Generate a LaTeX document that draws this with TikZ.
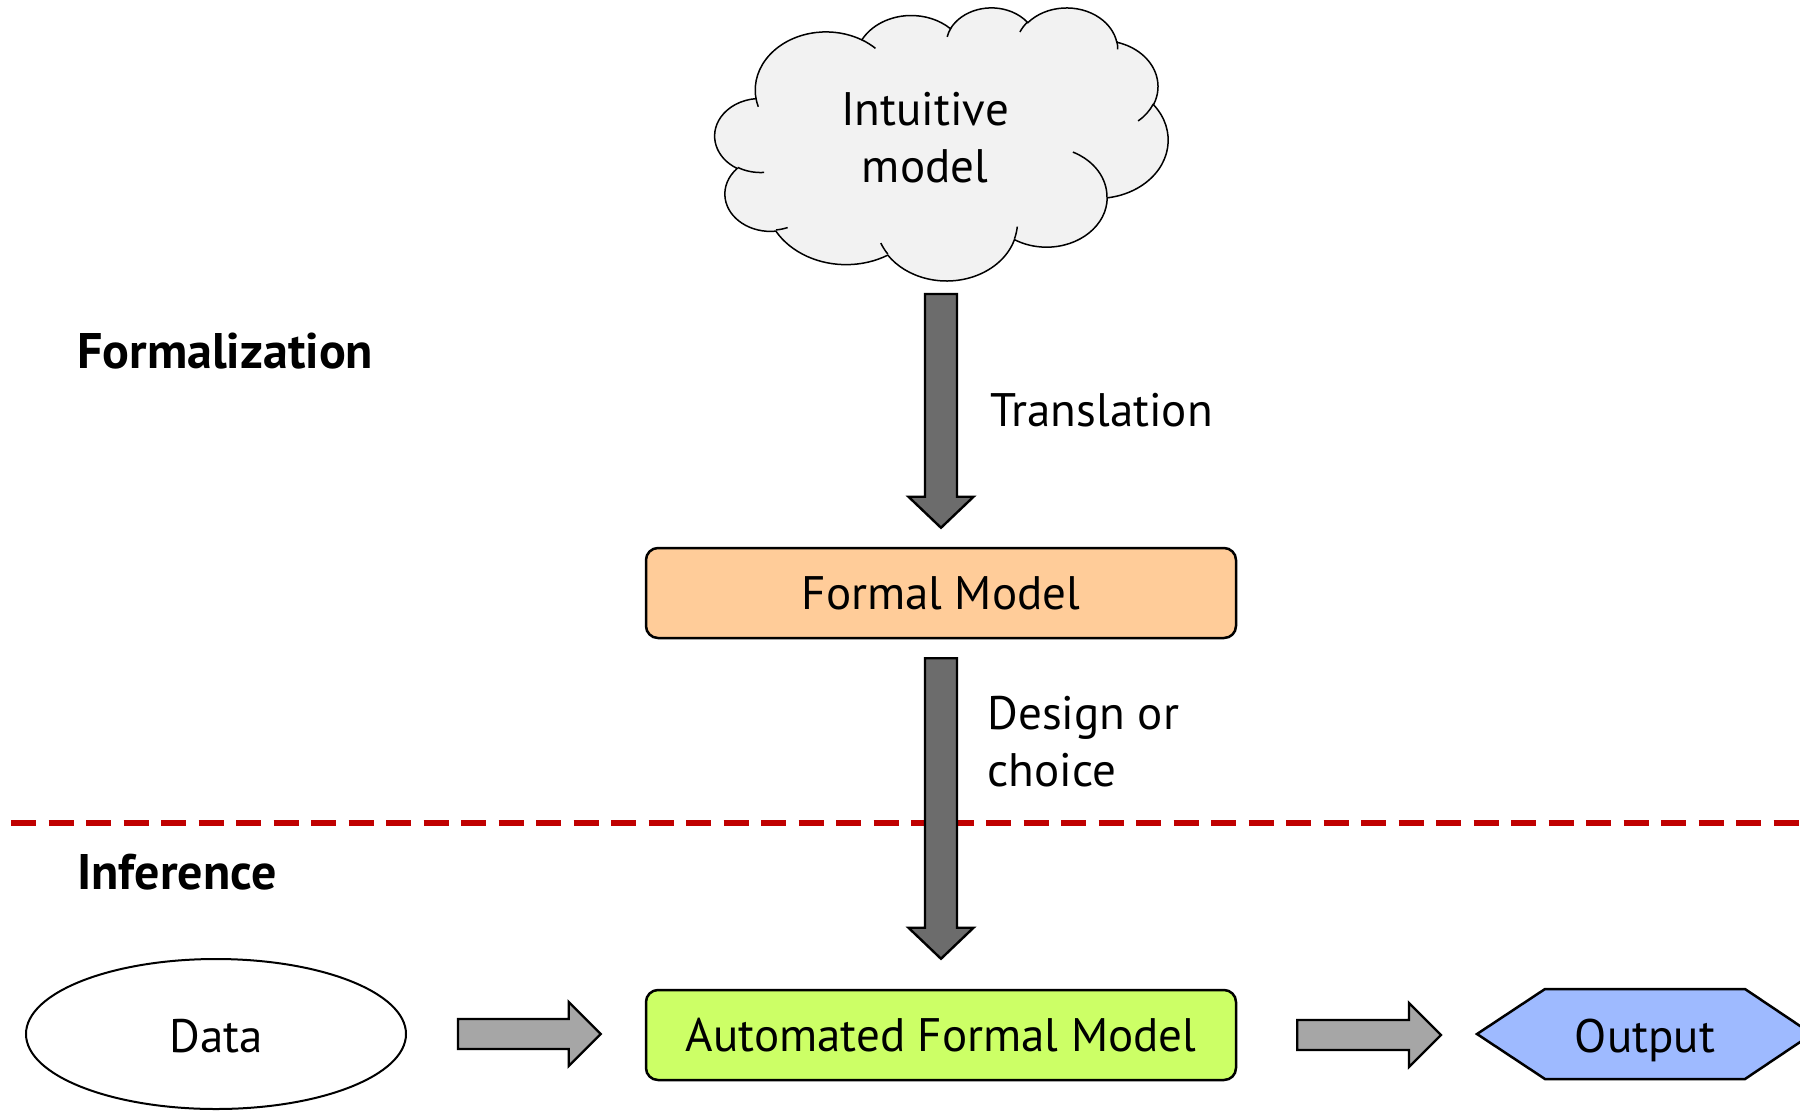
\documentclass[tikz,border=0pt]{standalone}
\usepackage{fontspec}
\setmainfont{PT Sans}
\usetikzlibrary{shapes.geometric,calc}

\definecolor{cloudgray}{RGB}{242,242,242}
\definecolor{peach}{RGB}{255,204,153}
\definecolor{lime}{RGB}{204,255,102}
\definecolor{skyblue}{RGB}{158,186,255}
\definecolor{darkshaft}{RGB}{108,108,108}
\definecolor{lightshaft}{RGB}{166,166,166}
\definecolor{borderred}{RGB}{192,0,0}

\tikzset{
  txt/.style={font=\fontsize{23.5}{28.5}\selectfont, inner sep=0pt},
  heading/.style={font=\fontsize{25}{30}\selectfont\bfseries, inner sep=0pt, anchor=west},
  modelbox/.style={draw, line width=1.25pt, rounded corners=6pt,
    minimum width=295pt, minimum height=45pt, txt},
  blockarrow/.style={draw, line width=1.2pt, line join=miter},
  phaseline/.style={draw=borderred, line width=2.8pt, dash pattern=on 12.5pt off 6.25pt},
  cloudline/.style={draw=black, line width=0.75pt},
}

% vertical block arrow from #1 down to the tip #2
\newcommand\vblockarrow[3]{%
  \draw[blockarrow, fill=#3] let \p1=#1, \p2=#2 in
    (\x1-8pt,\y1) -- (\x1+8pt,\y1) -- (\x1+8pt,\y2+15.5pt) -- (\x1+16.25pt,\y2+15.5pt)
    -- (\x1,\y2) -- (\x1-16.25pt,\y2+15.5pt) -- (\x1-8pt,\y2+15.5pt) -- cycle;}
% horizontal block arrow from #1 right to the tip #2
\newcommand\hblockarrow[3]{%
  \draw[blockarrow, fill=#3] let \p1=#1, \p2=#2 in
    (\x1,\y1-7.5pt) -- (\x2-16pt,\y1-7.5pt) -- (\x2-16pt,\y1-16pt) -- (\x2,\y1)
    -- (\x2-16pt,\y1+16pt) -- (\x2-16pt,\y1+7.5pt) -- (\x1,\y1+7.5pt) -- cycle;}

\begin{document}
\begin{tikzpicture}[x=0.5pt,y=-0.5pt]
\useasboundingbox (0,0) rectangle (1800,1110);

% phase separator
\draw[phaseline] (11,823) -- (1800,823);

% section headings
\node[heading] (formalization) at (77,351) {Formalization};
\node[heading] (inference) at (77,872) {Inference};

% intuitive model cloud: eleven elliptic puffs in a 432 x 432 frame
% (angles are visual angles, turned into the ellipse parameter below)
\begin{scope}[shift={(715,7)}, x=0.52431pt, y=-0.31597pt]
  \draw[cloudline, fill=cloudgray] (39.00,143.70)
    \foreach \rx/\ry/\st/\sw
      [evaluate=\st as \ta using {atan2(\rx*sin(\st),\ry*cos(\st))},
       evaluate=\st as \tb using {atan2(\rx*sin(\st+\sw),\ry*cos(\st+\sw))},
       evaluate=\st as \td using {mod(\tb-\ta+720,360)}]
    in {67.53/91.90/-190.4875/123.7805,
        53.33/72.67/-144.1024/89.9452,
        43.65/59.45/-145.8079/99.7230,
        48.57/65.95/-130.9861/117.2417,
        53.33/72.73/-78.7089/109.0269,
        67.75/92.20/-46.2673/130.2690,
        57.85/78.67/0.6250/114.0333,
        67.52/92.15/22.4516/115.1726,
        77.20/105.43/66.2426/75.7110,
        43.60/59.18/-274.9421/146.7356,
        43.45/59.45/-246.8285/152.5189}
    { arc[start angle=\ta, delta angle=\td, x radius=\rx, y radius=\ry] } -- cycle;
  % inner folds between neighbouring puffs
  \draw[cloudline]
    \foreach \mx/\my/\rx/\ry/\st/\sw
      [evaluate=\st as \ta using {atan2(\rx*sin(\st),\ry*cos(\st))},
       evaluate=\st as \tb using {atan2(\rx*sin(\st+\sw),\ry*cos(\st+\sw))},
       evaluate=\st as \td using {mod(\tb-\ta+720,360)}]
    in {46.93/261.77/43.45/59.45/86.742/26.4295,
        69.28/348.99/43.60/59.18/73.6105/11.4475,
        164.78/390.90/67.52/92.15/137.6242/14.0811,
        288.27/347.51/67.52/92.15/6.4533/15.9984,
        341.29/229.54/57.85/78.67/-70.2924/70.9174,
        417.98/153.54/53.33/72.73/30.3180/27.7515,
        383.24/54.26/48.57/65.95/-13.7443/14.8589,
        290.78/39.52/48.57/65.95/-149.1815/18.1954,
        221.41/47.20/43.65/59.45/-163.4943/17.6864,
        140.00/51.92/67.53/91.90/-66.7070/12.3194,
        41.27/157.89/67.53/91.90/157.6544/11.8582}
    { (\mx,\my) arc[start angle=\ta, delta angle=\td, x radius=\rx, y radius=\ry] };
\end{scope}
\coordinate (cloudbase) at (941,280);
\node[txt, align=center] (intuitive) at (925,138) {Intuitive\\model};

% model boxes
\node[modelbox, fill=peach] (formal) at (941,593) {Formal Model};
\node[modelbox, fill=lime] (auto) at (941,1035) {Automated Formal Model};

% data source
\node[ellipse, draw, line width=1pt, minimum width=190pt, minimum height=75pt, txt]
      (data) at (216,1034) {};
\node[txt] (datalabel) at (216,1036) {Data};

% output hexagon
\coordinate (outc) at (1645,1034);
\draw[line width=1.25pt, fill=skyblue, line join=miter]
  ($(outc)+(-168,0)$) -- ($(outc)+(-100,-45)$) -- ($(outc)+(100,-45)$)
  -- ($(outc)+(167,0)$) -- ($(outc)+(100,45)$) -- ($(outc)+(-100,45)$) -- cycle;
\node[txt] (output) at ($(outc)+(0,6)$) {Output};

% connectors
\vblockarrow{($(cloudbase)+(0,14)$)}{($(formal.north)+(0,-19)$)}{darkshaft}
\vblockarrow{($(formal.south)+(0,19)$)}{($(auto.north)+(0,-30)$)}{darkshaft}
\hblockarrow{($(data.east)+(51,0)$)}{($(auto.west)+(-44,0)$)}{lightshaft}
\hblockarrow{($(auto.east)+(60,0)$)}{($(outc)+(-204,0)$)}{lightshaft}

% connector labels
\node[txt, anchor=west] (translation) at (990,410) {Translation};
\node[txt, anchor=west, align=left] (design) at (987,742) {Design or\\choice};
\end{tikzpicture}
\end{document}
